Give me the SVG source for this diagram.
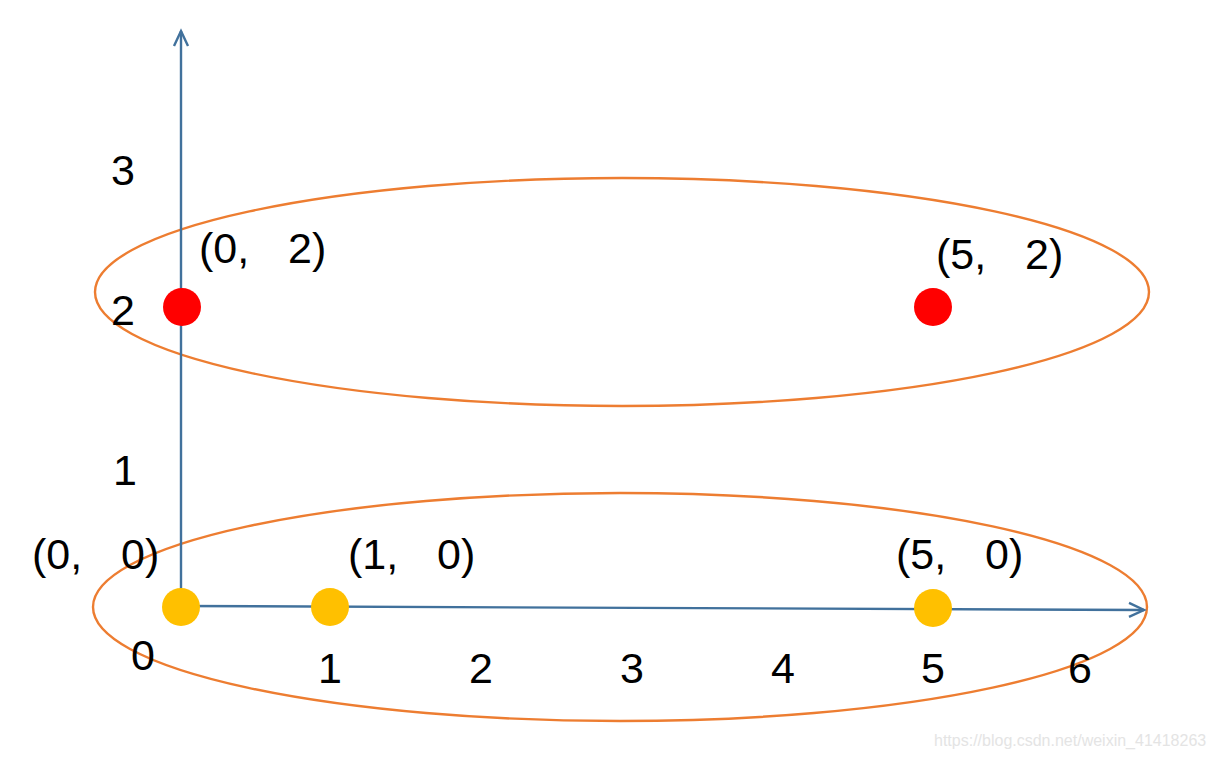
<svg xmlns="http://www.w3.org/2000/svg" width="1215" height="758" viewBox="0 0 1215 758">
<style>
.ell{fill:none;stroke:#ED7D31;stroke-width:2.4}
.ax{fill:none;stroke:#41719C;stroke-width:2.4}
.num{font-family:"Liberation Sans","Noto Sans CJK SC",sans-serif;font-size:43px;fill:#000;text-anchor:middle}
.lab{font-family:"Liberation Sans","Noto Sans CJK SC",sans-serif;font-size:43px;fill:#000}
.wm{font-family:"Liberation Sans",sans-serif;font-size:16px;fill:#e4e4e4}
</style>
<defs>
<marker id="arr" markerWidth="20" markerHeight="20" refX="16" refY="8" orient="auto" markerUnits="userSpaceOnUse" viewBox="0 0 20 16">
<path d="M1,1 L16,8 L1,15" fill="none" stroke="#41719C" stroke-width="2.4"/>
</marker>
</defs>
<g id="ellipses">
<ellipse id="ellipse-top" class="ell" cx="622" cy="292" rx="527" ry="114"/>
<ellipse id="ellipse-bottom" class="ell" cx="620" cy="607" rx="527" ry="114"/>
</g>
<g id="connectors">
<line class="ax" x1="181" y1="607" x2="181" y2="31" marker-end="url(#arr)"/>
<line class="ax" x1="181" y1="606" x2="1144" y2="610" marker-end="url(#arr)"/>
</g>
<g id="p00"><circle cx="181" cy="607" r="19" fill="#FFC000"/><text class="lab" y="569"><tspan x="32">(0,</tspan><tspan x="121">0)</tspan></text></g>
<g id="p10"><circle cx="330" cy="607" r="19" fill="#FFC000"/><text class="lab" y="569"><tspan x="348">(1,</tspan><tspan x="437">0)</tspan></text></g>
<g id="p50"><circle cx="933" cy="608" r="19" fill="#FFC000"/><text class="lab" y="569"><tspan x="896">(5,</tspan><tspan x="985">0)</tspan></text></g>
<g id="p02"><circle cx="182" cy="307" r="19" fill="#FF0000"/><text class="lab" y="263"><tspan x="199">(0,</tspan><tspan x="288">2)</tspan></text></g>
<g id="p52"><circle cx="933" cy="307" r="19" fill="#FF0000"/><text class="lab" y="269"><tspan x="936">(5,</tspan><tspan x="1025">2)</tspan></text></g>
<g id="x-labels">
<text class="num" x="143" y="670">0</text>
<text class="num" x="330" y="683">1</text>
<text class="num" x="481" y="683">2</text>
<text class="num" x="632" y="683">3</text>
<text class="num" x="783" y="683">4</text>
<text class="num" x="933" y="683">5</text>
<text class="num" x="1080" y="683">6</text>
</g>
<g id="y-labels">
<text class="num" x="125" y="485">1</text>
<text class="num" x="123" y="325">2</text>
<text class="num" x="123" y="185">3</text>
</g>
<text class="wm" x="934" y="746">https://blog.csdn.net/weixin_41418263</text>
</svg>
